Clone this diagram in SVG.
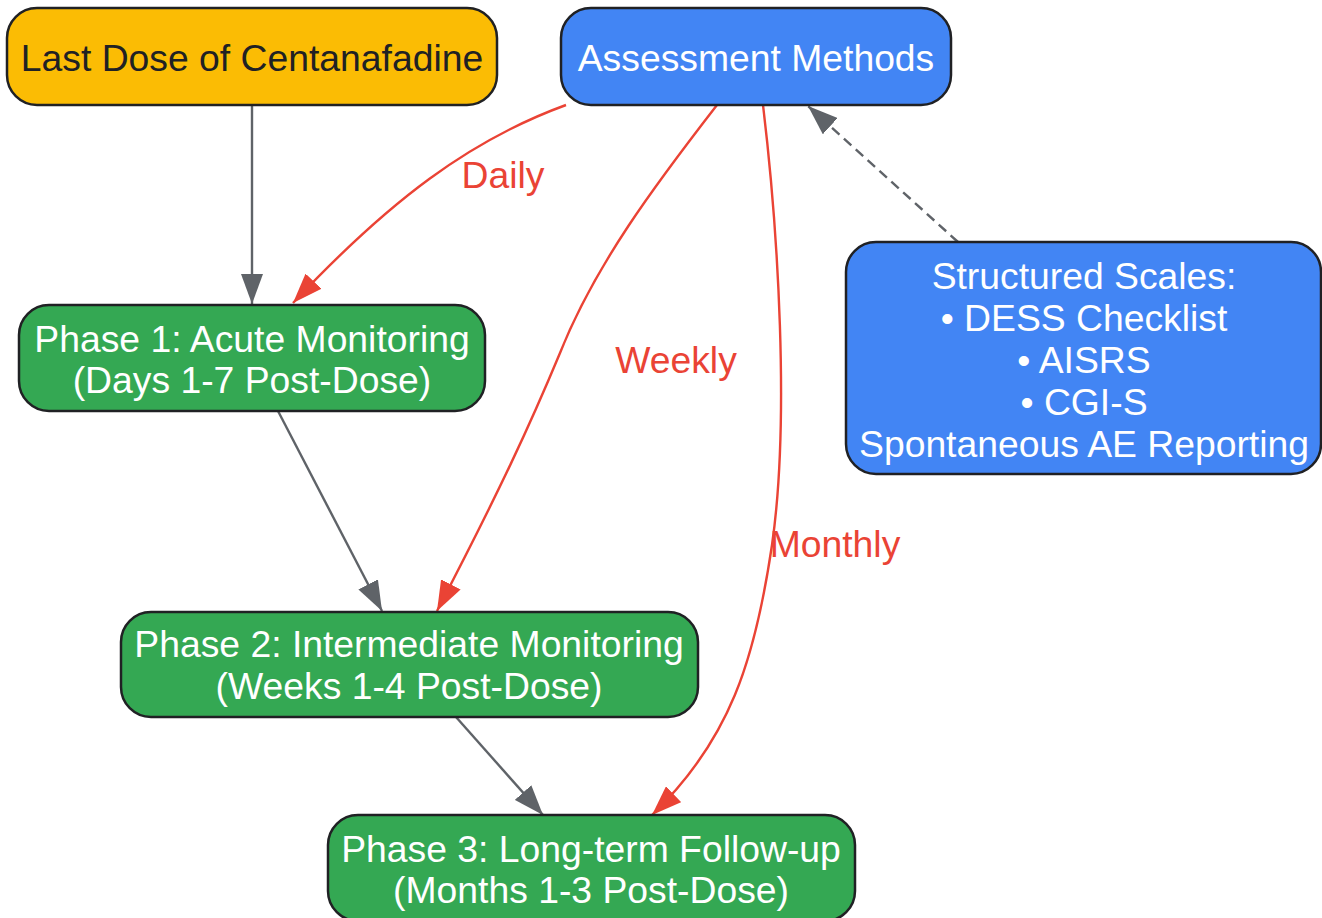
<svg xmlns="http://www.w3.org/2000/svg" width="1322" height="918" viewBox="0 0 1322 918">
<style>
.node rect{stroke:#202124;stroke-width:2.5}
.yellow rect{fill:#FBBC04}
.blue rect{fill:#4285F4}
.green rect{fill:#34A853}
text{font-family:"Liberation Sans",Arial,sans-serif;font-size:37.3px;text-anchor:middle}
.node text{fill:#FFFFFF}
.yellow text{fill:#202124}
.edge{fill:none;stroke-width:2.4}
.gray{stroke:#5F6368}
.red{stroke:#EA4335}
.dash{stroke-dasharray:10 6}
.lbl{fill:#EA4335}
</style>
<defs>
<marker id="ag" markerUnits="userSpaceOnUse" markerWidth="30" markerHeight="22" refX="30" refY="11" orient="auto"><path d="M0,0 L30,11 L0,22 z" fill="#5F6368"/></marker>
<marker id="ar" markerUnits="userSpaceOnUse" markerWidth="30" markerHeight="22" refX="30" refY="11" orient="auto"><path d="M0,0 L30,11 L0,22 z" fill="#EA4335"/></marker>
</defs>
<g id="connectors">
<path class="edge gray" d="M252,105 L252,304" marker-end="url(#ag)"/>
<path class="edge gray" d="M278,411 L382,611" marker-end="url(#ag)"/>
<path class="edge gray" d="M456,717 L543,815" marker-end="url(#ag)"/>
<path class="edge gray dash" d="M958,242 L808,106" marker-end="url(#ag)"/>
<path class="edge red" d="M566,105 C470,140 390,200 293,303" marker-end="url(#ar)"/>
<path class="edge red" d="M717,105 C655,185 595,265 560,353 C530,425 500,490 437,611" marker-end="url(#ar)"/>
<path class="edge red" d="M763,105 C778,230 790,420 772,545 C755,660 730,740 652,815" marker-end="url(#ar)"/>
<text class="lbl" x="503" y="188">Daily</text>
<text class="lbl" x="676" y="373">Weekly</text>
<text class="lbl" x="835" y="557">Monthly</text>
</g>
<g id="lastDose" class="node yellow">
<rect x="7" y="8" width="490" height="97" rx="30"/>
<text x="252" y="71">Last Dose of Centanafadine</text>
</g>
<g id="assessment" class="node blue">
<rect x="561" y="8" width="390" height="97" rx="30"/>
<text x="756" y="71">Assessment Methods</text>
</g>
<g id="scales" class="node blue">
<rect x="846" y="242" width="475" height="232" rx="30"/>
<text x="1084" y="289">Structured Scales:</text>
<text x="1084" y="331">• DESS Checklist</text>
<text x="1084" y="373">• AISRS</text>
<text x="1084" y="415">• CGI-S</text>
<text x="1084" y="457">Spontaneous AE Reporting</text>
</g>
<g id="phase1" class="node green">
<rect x="19" y="305" width="466" height="106" rx="30"/>
<text x="252" y="352">Phase 1: Acute Monitoring</text>
<text x="252" y="393">(Days 1-7 Post-Dose)</text>
</g>
<g id="phase2" class="node green">
<rect x="121" y="612" width="577" height="105" rx="30"/>
<text x="409" y="657">Phase 2: Intermediate Monitoring</text>
<text x="409" y="699">(Weeks 1-4 Post-Dose)</text>
</g>
<g id="phase3" class="node green">
<rect x="328" y="815" width="527" height="106" rx="30"/>
<text x="591" y="862">Phase 3: Long-term Follow-up</text>
<text x="591" y="903">(Months 1-3 Post-Dose)</text>
</g>
</svg>
